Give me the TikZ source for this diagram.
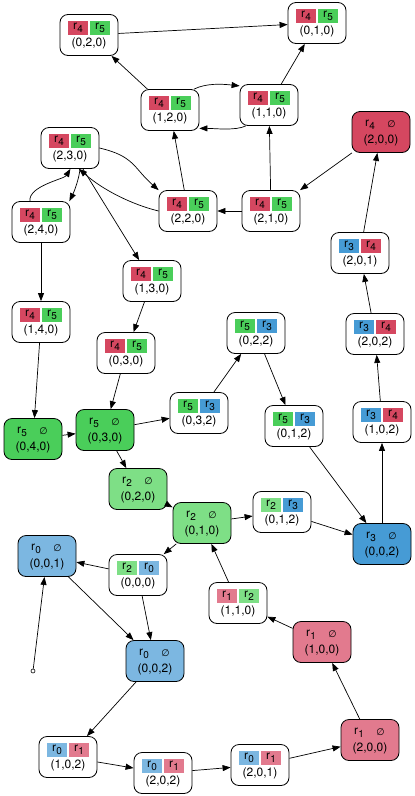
\documentclass[tikz,border=0pt]{standalone}
\usepackage{fontspec}
\setmainfont{TeX Gyre Heros}
\newfontfamily\symfont{DejaVu Sans}
\usetikzlibrary{arrows.meta,calc}
\definecolor{cRed}{RGB}{213,71,96}
\definecolor{cGreen}{RGB}{74,206,90}
\definecolor{cLGreen}{RGB}{126,223,134}
\definecolor{cBlue}{RGB}{70,155,213}
\definecolor{cLBlue}{RGB}{124,183,225}
\definecolor{cPink}{RGB}{226,122,142}
\tikzset{
  statebox/.style={draw=black, line width=0.8pt, rounded corners=8pt, minimum width=58pt, minimum height=41pt, inner sep=0pt, fill=white},
  tagbox/.style={minimum width=20pt, minimum height=14.5pt, inner sep=0pt, font=\fontsize{12}{12}\selectfont},
  toplab/.style={inner sep=0pt, font=\fontsize{12}{12}\selectfont},
  tuplelab/.style={inner sep=0pt, font=\fontsize{12}{12}\selectfont},
  edge/.style={line width=0.7pt, -{Triangle[length=8pt,width=6pt]}},
  startpt/.style={circle, draw=black, line width=0.6pt, fill=white, inner sep=0pt, minimum size=4pt},
}
\newcommand\rlab[1]{r\kern0.2pt\raisebox{-2.8pt}{\fontsize{10}{10}\selectfont #1}}
\newcommand\emptysym{{\symfont\fontsize{9.5}{9.5}\selectfont ∅}}
% name, x, y, colA, subA, colB, subB, tuple
\newcommand\pairbox[8]{%
  \node[statebox] (#1) at (#2,#3) {};
  \node[tagbox,fill=#4] at ([shift={(-11,-7)}]#1.center) {\rlab{#5}};
  \node[tagbox,fill=#6] at ([shift={(11,-7)}]#1.center) {\rlab{#7}};
  \node[tuplelab] at ([shift={(0,8.5)}]#1.center) {#8};
}
% name, x, y, fill, sub, tuple
\newcommand\fullbox[6]{%
  \node[statebox,fill=#4] (#1) at (#2,#3) {};
  \node[toplab] at ([shift={(-11,-7)}]#1.center) {\rlab{#5}};
  \node[toplab] at ([shift={(10.5,-7.5)}]#1.center) {\emptysym};
  \node[tuplelab] at ([shift={(0,8.5)}]#1.center) {#6};
}
\begin{document}
\begin{tikzpicture}[x=1pt,y=-1pt]
\useasboundingbox (0,0) rectangle (415,796);
% top group r4 r5
\pairbox{a020}{89}{35}{cRed}{4}{cGreen}{5}{(0,2,0)}
\pairbox{a010}{317}{23}{cRed}{4}{cGreen}{5}{(0,1,0)}
\pairbox{a120}{170}{110}{cRed}{4}{cGreen}{5}{(1,2,0)}
\pairbox{a110}{269}{105}{cRed}{4}{cGreen}{5}{(1,1,0)}
\fullbox{r200}{381}{132}{cRed}{4}{(2,0,0)}
\pairbox{a230}{70}{148}{cRed}{4}{cGreen}{5}{(2,3,0)}
\pairbox{a220}{188}{211}{cRed}{4}{cGreen}{5}{(2,2,0)}
\pairbox{a210}{271}{211}{cRed}{4}{cGreen}{5}{(2,1,0)}
\pairbox{a240}{41}{222}{cRed}{4}{cGreen}{5}{(2,4,0)}
\pairbox{a130}{152}{281}{cRed}{4}{cGreen}{5}{(1,3,0)}
\pairbox{a140}{41}{322}{cRed}{4}{cGreen}{5}{(1,4,0)}
\pairbox{a030}{126}{353}{cRed}{4}{cGreen}{5}{(0,3,0)}
% r3 r4 chain
\pairbox{b201}{360}{253}{cBlue}{3}{cRed}{4}{(2,0,1)}
\pairbox{b202}{375}{334}{cBlue}{3}{cRed}{4}{(2,0,2)}
\pairbox{b102}{382}{422}{cBlue}{3}{cRed}{4}{(1,0,2)}
% r5 r3 chain
\pairbox{c022}{256}{333}{cGreen}{5}{cBlue}{3}{(0,2,2)}
\pairbox{c032}{199}{413}{cGreen}{5}{cBlue}{3}{(0,3,2)}
\pairbox{c012}{294}{426}{cGreen}{5}{cBlue}{3}{(0,1,2)}
% green
\fullbox{g040}{33}{439}{cGreen}{5}{(0,4,0)}
\fullbox{g030}{105}{430}{cGreen}{5}{(0,3,0)}
\fullbox{lg020}{138}{489}{cLGreen}{2}{(0,2,0)}
\fullbox{lg010}{202}{523}{cLGreen}{2}{(0,1,0)}
\pairbox{d012}{282}{512}{cLGreen}{2}{cBlue}{3}{(0,1,2)}
\fullbox{bl002}{382}{544}{cBlue}{3}{(0,0,2)}
% blue r0
\fullbox{lb001}{47}{556}{cLBlue}{0}{(0,0,1)}
\pairbox{e000}{138}{575}{cLGreen}{2}{cLBlue}{0}{(0,0,0)}
\pairbox{f110}{238}{603}{cPink}{1}{cLGreen}{2}{(1,1,0)}
\fullbox{p100}{322}{642}{cPink}{1}{(1,0,0)}
\fullbox{lb002}{155}{661}{cLBlue}{0}{(0,0,2)}
\node[startpt] (start) at (33,671) {};
\pairbox{h102}{68}{757}{cLBlue}{0}{cPink}{1}{(1,0,2)}
\pairbox{h202}{163}{773}{cLBlue}{0}{cPink}{1}{(2,0,2)}
\pairbox{h201}{260}{765}{cLBlue}{0}{cPink}{1}{(2,0,1)}
\fullbox{p200}{370}{740}{cPink}{1}{(2,0,0)}
% edges
\draw[edge] (a020) -- (a010);
\draw[edge] (a120) -- (a020);
\draw[edge] (a110) -- (a010);
\draw[edge] (a120.41) .. controls +(12,-6) and +(-18,-2) .. (a110.147);
\draw[edge] (a110.222) .. controls +(-10,5) and +(15,0) .. (a120.328);
\draw[edge] (a220) -- (a120);
\draw[edge] (a210) -- (a110);
\draw[edge] (a210) -- (a220);
\draw[edge] (r200) -- (a210);
\draw[edge] (b201) -- (r200);
\draw[edge] (b202) -- (b201);
\draw[edge] (b102) -- (b202);
\draw[edge] (bl002) -- (b102);
\draw[edge] (a230.east) .. controls +(35,8) and +(-25,-22) .. (a220.north west);
\draw[edge] (a220.west) .. controls +(-25,-6) and +(25,22) .. ([shift={(9,0)}]a230.south);
\draw[edge] ([shift={(-11,0)}]a240.north) .. controls +(-2,-15) and +(-6,10) .. ([shift={(-29,0)}]a230.south east);
\draw[edge] ([shift={(10,0)}]a230.south) .. controls +(-1,10) and +(5,-10) .. ([shift={(-1,0)}]a240.north east);
\draw[edge] (a230) -- (a130);
\draw[edge] (a240) -- (a140);
\draw[edge] (a140) -- (g040);
\draw[edge] (a130) -- (a030);
\draw[edge] (a030) -- (g030);
\draw[edge] (g040) -- (g030);
\draw[edge] (g030) -- (c032);
\draw[edge] (g030) -- (lg020);
\draw[edge] (c032) -- (c022);
\draw[edge] (c022) -- (c012);
\draw[edge] (c012) -- (bl002);
\draw[edge] (lg020) -- (lg010);
\draw[edge] (lg010) -- (d012);
\draw[edge] (d012) -- (bl002);
\draw[edge] (lg010) -- (e000);
\draw[edge] (f110) -- (lg010);
\draw[edge] (p100) -- (f110);
\draw[edge] (p200) -- (p100);
\draw[edge] (h201) -- (p200);
\draw[edge] (h202) -- (h201);
\draw[edge] (h102) -- (h202);
\draw[edge] (lb002) -- (h102);
\draw[edge] (lb001) -- (lb002);
\draw[edge] (e000) -- (lb002);
\draw[edge] (e000) -- (lb001);
\draw[edge] (start) -- (lb001);
\end{tikzpicture}
\end{document}
